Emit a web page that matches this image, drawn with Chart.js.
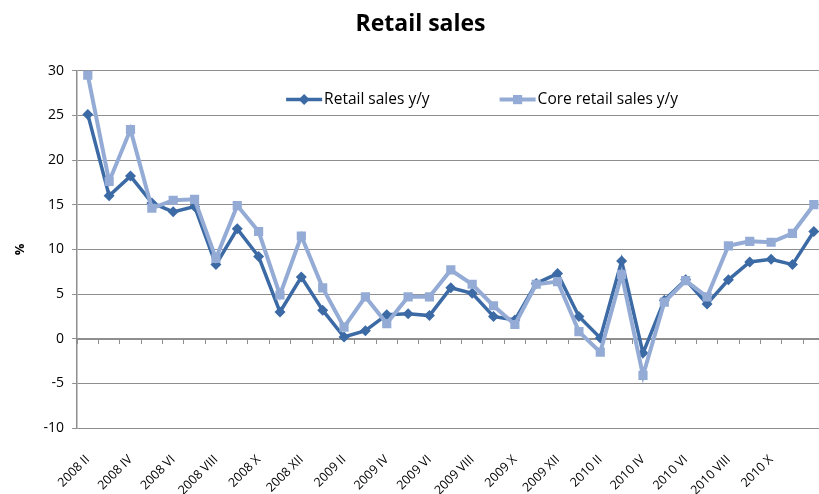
<!DOCTYPE html>
<html>
<head>
<meta charset="utf-8">
<script src="https://cdn.jsdelivr.net/npm/chart.js@4.4.0/dist/chart.umd.min.js"></script>
<style>
  html, body { margin: 0; padding: 0; overflow: hidden; background: #fff; }
  #wrap { width: 831px; height: 494px; }
</style>
</head>
<body>
<div id="wrap"><canvas id="salesChart" width="831" height="494"></canvas></div>
<script>
// months Feb 2008 .. Dec 2010
var months = [
  '2008 II', '2008 III', '2008 IV', '2008 V', '2008 VI', '2008 VII', '2008 VIII', '2008 IX', '2008 X', '2008 XI', '2008 XII',
  '2009 I', '2009 II', '2009 III', '2009 IV', '2009 V', '2009 VI', '2009 VII', '2009 VIII', '2009 IX', '2009 X', '2009 XI', '2009 XII',
  '2010 I', '2010 II', '2010 III', '2010 IV', '2010 V', '2010 VI', '2010 VII', '2010 VIII', '2010 IX', '2010 X', '2010 XI', '2010 XII'
];
var retailSales = [25.1, 16.0, 18.2, 15.2, 14.2, 14.8, 8.3, 12.3, 9.2, 3.0, 6.9, 3.2,
  0.2, 0.9, 2.7, 2.8, 2.6, 5.7, 5.1, 2.5, 2.1, 6.2, 7.3, 2.5,
  0.1, 8.7, -1.6, 4.3, 6.6, 3.9, 6.6, 8.6, 8.9, 8.3, 12.0];
var coreRetailSales = [29.5, 17.6, 23.4, 14.6, 15.5, 15.6, 9.0, 14.9, 12.0, 4.9, 11.5, 5.7,
  1.3, 4.7, 1.7, 4.7, 4.7, 7.7, 6.1, 3.7, 1.6, 6.1, 6.4, 0.8,
  -1.5, 7.2, -4.1, 4.1, 6.5, 4.7, 10.4, 10.9, 10.8, 11.8, 15.0];
var yTicks = { min: -10, max: 30, step: 5 };

var darkBlue = '#3B6AA5';
var lightBlue = '#94ACD5';
var gridGray = '#8E8E8E';
var fontFamily = "'Open Sans', 'Noto Sans', sans-serif";

Chart.defaults.font.family = fontFamily;
Chart.defaults.color = '#111';

// legend inside the plot: line with a marker, then the label
var insideLegend = {
    id: 'insideLegend',
    afterDraw: function(chart) {
        var ctx = chart.ctx;
        var area = chart.chartArea;
        var x = area.left + 209;
        var y = area.top + 29;
        ctx.save();
        ctx.font = '15.5px ' + fontFamily;
        ctx.textBaseline = 'middle';
        chart.data.datasets.forEach(function(ds) {
            ctx.strokeStyle = ds.borderColor;
            ctx.lineWidth = ds.borderWidth;
            ctx.beginPath();
            ctx.moveTo(x, y);
            ctx.lineTo(x + 36, y);
            ctx.stroke();
            ctx.fillStyle = ds.backgroundColor;
            Chart.helpers.drawPoint(ctx, {
                pointStyle: ds.pointStyle,
                radius: ds.pointRadius,
                borderWidth: 0,
                rotation: 0
            }, x + 18, y);
            ctx.fillStyle = '#000';
            ctx.fillText(ds.label, x + 38, y);
            x += 38 + ctx.measureText(ds.label).width + 70;
        });
        ctx.restore();
    }
};

document.addEventListener('DOMContentLoaded', function() {
    var ctx = document.getElementById('salesChart').getContext('2d');
    var salesChart = new Chart(ctx, {
        type: 'line',
        data: {
            labels: months,
            datasets: [{
                label: 'Retail sales y/y',
                data: retailSales,
                borderColor: darkBlue,
                backgroundColor: darkBlue,
                borderWidth: 3.5,
                pointStyle: 'rectRot',
                pointRadius: 5.5,
                pointBorderWidth: 0,
                order: 1
            }, {
                label: 'Core retail sales y/y',
                data: coreRetailSales,
                borderColor: lightBlue,
                backgroundColor: lightBlue,
                borderWidth: 4,
                pointStyle: 'rect',
                pointRadius: 6.5,
                pointBorderWidth: 0,
                order: 0
            }]
        },
        options: {
            responsive: false,
            animation: false,
            devicePixelRatio: 1,
            layout: { padding: { top: 3, right: 2, bottom: -20, left: 12 } },
            plugins: {
                title: {
                    display: true,
                    text: 'Retail sales',
                    font: { size: 23, weight: 'bold' },
                    color: '#000',
                    padding: { top: 8, bottom: 32 }
                },
                legend: { display: false },
                tooltip: { enabled: false }
            },
            scales: {
                x: {
                    type: 'category',
                    offset: true,
                    grid: { display: false },
                    border: { display: false },
                    afterFit: function(scale) {
                        scale.paddingLeft = 0;
                        scale.paddingRight = 0;
                    },
                    ticks: {
                        autoSkip: false,
                        maxRotation: 45,
                        minRotation: 45,
                        padding: 16,
                        font: { size: 12.5 },
                        color: '#000',
                        callback: function(value, index) {
                            return (index % 2 === 0 && index < months.length - 1) ? months[index] : '';
                        }
                    }
                },
                x2: {
                    type: 'category',
                    axis: 'x',
                    position: { y: 0 },
                    offset: true,
                    grid: {
                        offset: true,
                        drawOnChartArea: false,
                        drawTicks: true,
                        tickLength: 4,
                        color: gridGray
                    },
                    border: { display: true, color: gridGray, width: 2 },
                    ticks: { display: false, autoSkip: false }
                },
                y: {
                    min: yTicks.min,
                    max: yTicks.max,
                    ticks: {
                        stepSize: yTicks.step,
                        font: { size: 14 },
                        color: '#000',
                        padding: 8
                    },
                    grid: { color: gridGray, lineWidth: 1, tickLength: 5 },
                    border: { display: true, color: gridGray, width: 1.5 },
                    title: {
                        display: true,
                        text: '%',
                        font: { size: 13, weight: 'bold' },
                        color: '#000',
                        padding: { top: 0, bottom: 8 }
                    }
                }
            }
        },
        plugins: [insideLegend]
    });
});
</script>
</body>
</html>
